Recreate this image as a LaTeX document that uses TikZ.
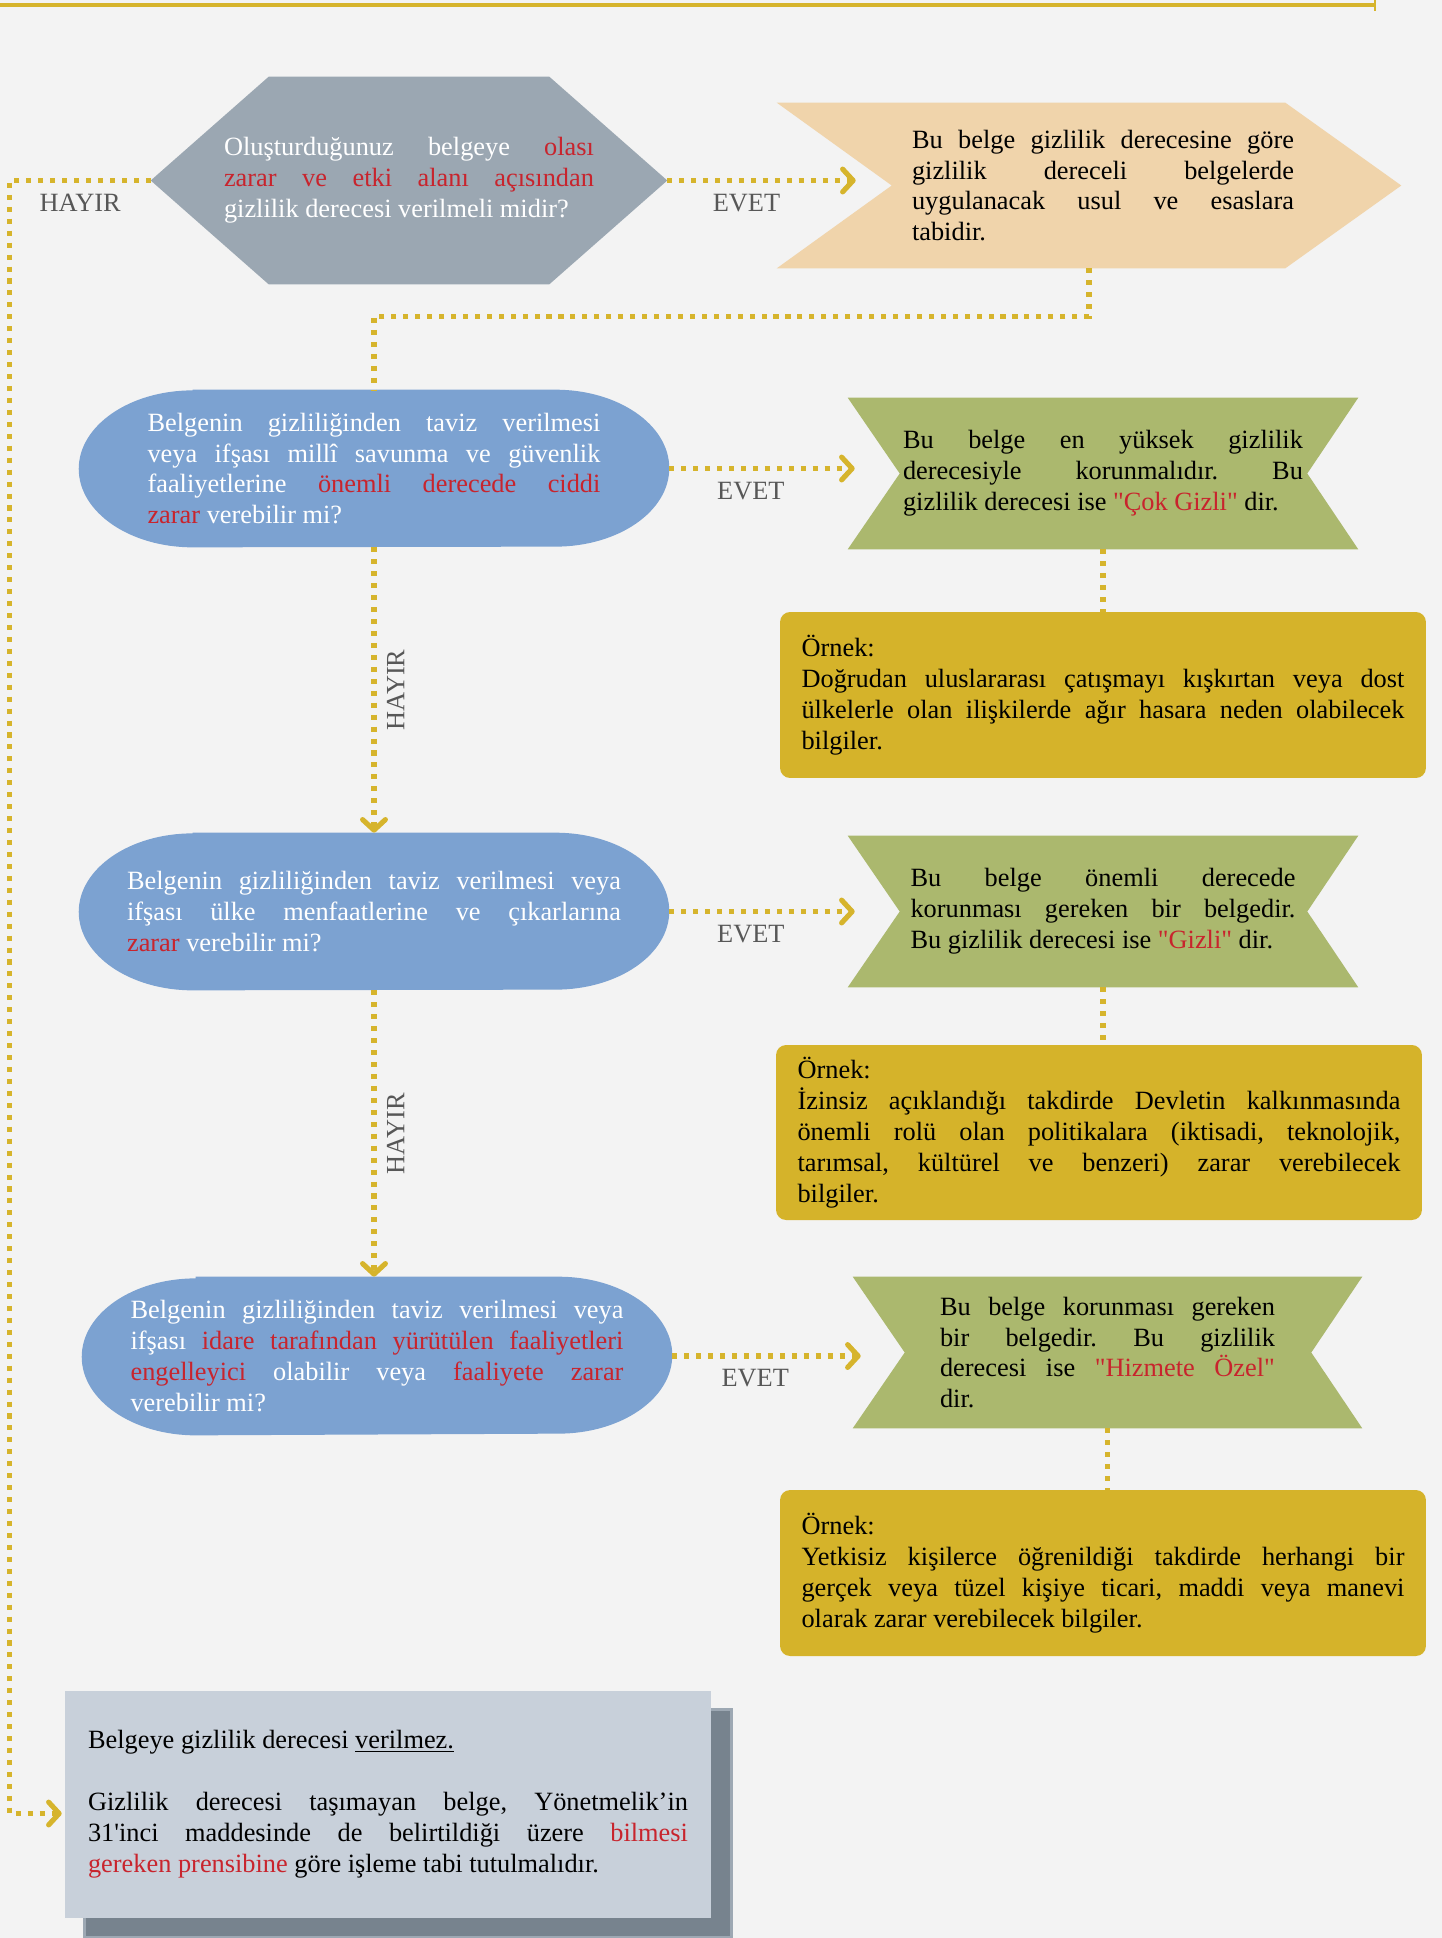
\documentclass[tikz,border=0pt]{standalone}
\usepackage{fontspec}
\setmainfont{Liberation Serif}
\usepackage{xcolor}
\usetikzlibrary{positioning}
\usetikzlibrary{calc}
\usetikzlibrary{backgrounds}
\usetikzlibrary{arrows.meta}

\definecolor{pagegray}{HTML}{F3F3F3}
\definecolor{linegold}{HTML}{D6B42C}
\definecolor{hexgray}{HTML}{9BA7B2}
\definecolor{peach}{HTML}{F0D4AB}
\definecolor{qblue}{HTML}{7CA2D1}
\definecolor{ribbongreen}{HTML}{ABB86E}
\definecolor{boxgold}{HTML}{D5B32A}
\definecolor{redtxt}{HTML}{C8242D}
\definecolor{labelgray}{HTML}{575757}
\definecolor{notefront}{HTML}{C8D0DA}
\definecolor{noteshadow}{HTML}{77838E}
\definecolor{shadowedge}{HTML}{9DA8B3}

\newcommand{\redword}[1]{\textcolor{redtxt}{#1}}

\hyphenpenalty=10000
\exhyphenpenalty=10000
\tolerance=10000
\hbadness=10000
\frenchspacing

\tikzset{
  every node/.style={font=\fontsize{15}{17.6}\selectfont},
  topline/.style={draw=linegold, line width=2.6pt},
  flowline/.style={draw=linegold, line width=2.9pt, dash pattern=on 2.9pt off 3.9pt},
  flowarrow/.style={flowline, -{Straight Barb[length=6pt, width=13pt, line width=2.9pt, round]}},
  lbl/.style={text=labelgray},
  hexbox/.style={inner sep=0pt, minimum width=10.32cm, minimum height=4.14cm, text width=7.4cm, align=justify, text=white},
  peachbox/.style={inner sep=0pt, minimum width=12.48cm, minimum height=3.3cm},
  qbox/.style={inner sep=0pt, minimum width=11.8cm, minimum height=3.14cm, align=justify, text=white},
  ribbon/.style={inner sep=0pt, minimum width=10.2cm, minimum height=3.02cm, text width=7.7cm, align=justify},
  exbox/.style={fill=boxgold, rounded corners=0.2cm, inner sep=0pt, minimum width=12.92cm, minimum height=3.32cm, text width=12.06cm, align=justify},
  notebox/.style={fill=notefront, inner sep=0pt, minimum width=12.92cm, minimum height=4.54cm, text width=12cm, align=justify}
}

\begin{document}
\begin{tikzpicture}[x=0.02cm, y=-0.02cm]

\useasboundingbox (0,0) rectangle (1442,1938);

\begin{scope}[on background layer]
\fill[pagegray] (0,0) rectangle (1442,1938);
\end{scope}

% top line
\coordinate (topL) at (0,5);
\coordinate (topR) at (1376,5);
\draw[topline, -{Bar[width=7pt, line width=1pt]}] (topL) -- (topR);

% first row
{
\node[hexbox] (q0) at (409,180.5) {Oluşturduğunuz belgeye \redword{olası}\linebreak \redword{zarar ve etki alanı açısından}\linebreak gizlilik derecesi verilmeli midir?};

\node[peachbox] (p0) at (1089,185.5) {\hspace*{0.56cm}\parbox{7.64cm}{Bu belge gizlilik derecesine göre\linebreak gizlilik dereceli belgelerde\linebreak uygulanacak usul ve esaslara\linebreak tabidir.}};
}

% cok gizli
{
\node[qbox, text width=9.06cm] (q1) at (374,468.5) {Belgenin gizliliğinden taviz verilmesi\linebreak veya ifşası millî savunma ve güvenlik\linebreak faaliyetlerine \redword{önemli derecede ciddi}\linebreak \redword{zarar} verebilir mi?};

\node[ribbon, text width=8.0cm] (g1) at (1103,473.5) {Bu belge en yüksek gizlilik\linebreak derecesiyle korunmalıdır. Bu\linebreak gizlilik derecesi ise \redword{\textquotedbl Çok Gizli\textquotedbl} dir.};

\node[exbox] (e1) at (1103,695) {Örnek:\\ Doğrudan uluslararası çatışmayı kışkırtan veya dost\linebreak ülkelerle olan ilişkilerde ağır hasara neden olabilecek\linebreak bilgiler.};
}

% gizli
{
\node[qbox, text width=9.88cm] (q2) at (374,911.5) {Belgenin gizliliğinden taviz verilmesi veya\linebreak ifşası ülke menfaatlerine ve çıkarlarına\linebreak \redword{zarar} verebilir mi?};

\node[ribbon] (g2) at (1103,911.5) {Bu belge önemli derecede\linebreak korunması gereken bir belgedir.\linebreak Bu gizlilik derecesi ise \redword{\textquotedbl Gizli\textquotedbl} dir.};

\node[exbox, minimum height=3.5cm] (e2) at (1099,1132.5) {Örnek:\\ İzinsiz açıklandığı takdirde Devletin kalkınmasında\linebreak önemli rolü olan politikalara (iktisadi, teknolojik,\linebreak tarımsal, kültürel ve benzeri) zarar verebilecek\linebreak bilgiler.};
}

% hizmete ozel
{
\node[qbox, text width=9.86cm, minimum height=3.16cm] (q3) at (377,1356) {Belgenin gizliliğinden taviz verilmesi veya\linebreak ifşası \redword{idare tarafından yürütülen faaliyetleri}\linebreak \redword{engelleyici} olabilir veya \redword{faaliyete zarar}\linebreak verebilir mi?};

\node[ribbon, text width=6.7cm, minimum width=10.18cm] (g3) at (1107.5,1352.5) {Bu belge korunması gereken\linebreak bir belgedir. Bu gizlilik\linebreak derecesi ise \redword{\textquotedbl Hizmete Özel\textquotedbl}\linebreak dir.};

\node[exbox] (e3) at (1103,1573) {Örnek:\\ Yetkisiz kişilerce öğrenildiği takdirde herhangi bir\linebreak gerçek veya tüzel kişiye ticari, maddi veya manevi\linebreak olarak zarar verebilecek bilgiler.};
}

% no grade
\node[notebox] (n0) at (388,1804.5) {Belgeye gizlilik derecesi \underline{verilmez.}\\[17.6pt] Gizlilik derecesi taşımayan belge, Yönetmelik’in\linebreak 31\textquotesingle inci maddesinde de belirtildiği üzere \redword{bilmesi}\linebreak \redword{gereken prensibine} göre işleme tabi tutulmalıdır.};

% shapes behind the texts
\begin{scope}[on background layer]
\fill[hexgray] (q0.west) -- ($(q0.north west)+(118,0)$) -- ($(q0.north east)+(-118,0)$) -- (q0.east) -- ($(q0.south east)+(-118,0)$) -- ($(q0.south west)+(118,0)$) -- cycle;

\fill[peach] (p0.north west) -- ($(p0.north east)+(-116,0)$) -- (p0.east) -- ($(p0.south east)+(-116,0)$) -- (p0.south west) -- ($(p0.west)+(115,0)$) -- cycle;

\foreach \q in {q1,q2,q3}{
\fill[qblue] ($(\q.north west)+(114,0)$) -- ($(\q.north east)+(-114,0)$) arc[start angle=90, end angle=-90, x radius=2.28cm, y radius=1.57cm] -- ($(\q.south west)+(114,0)$) arc[start angle=270, end angle=90, x radius=2.28cm, y radius=1.57cm] -- cycle;
}

\foreach \g in {g1,g2,g3}{
\fill[ribbongreen] (\g.north west) -- (\g.north east) -- ($(\g.east)+(-51,0)$) -- (\g.south east) -- (\g.south west) -- ($(\g.west)+(52,0)$) -- cycle;
}

\fill[noteshadow, draw=shadowedge, line width=1.7pt] ($(n0.north west)+(20,19)$) rectangle ($(n0.south east)+(20,19)$);
\end{scope}

% connectors
{
\draw[flowarrow] (q0.east) -- ($(q0.east -| p0.west)+(79,0)$) node[lbl, pos=0.42, below=3pt] {EVET};
\draw[flowarrow] (q0.west) -- ++(-141,0) node[lbl, midway, below=3pt] {HAYIR} |- ($(n0.west)+(-3,9)$);
\draw[flowline] (p0.south) -- ++(0,48) -| (q1.north);

\draw[flowarrow] (q1.east) -- ($(q1.east -| g1.west)+(7,0)$) node[lbl, pos=0.44, below=3pt] {EVET};
\draw[flowline] (g1.south) -- (e1.north);
\draw[flowarrow] (q1.south) -- (q2.north) node[lbl, midway, rotate=90, anchor=north, inner sep=6pt] {HAYIR};

\draw[flowarrow] (q2.east) -- ($(q2.east -| g2.west)+(7,0)$) node[lbl, pos=0.44, below=3pt] {EVET};
\draw[flowline] (g2.south) -- (g2.south |- e2.north);
\draw[flowarrow] (q2.south) -- (q2.south |- q3.north) node[lbl, midway, rotate=90, anchor=north, inner sep=6pt] {HAYIR};

\draw[flowarrow] (q3.east) -- ($(q3.east -| g3.west)+(8,0)$) node[lbl, pos=0.44, below=3pt] {EVET};
\draw[flowline] (g3.south) -- (g3.south |- e3.north);
}

\end{tikzpicture}
\end{document}
